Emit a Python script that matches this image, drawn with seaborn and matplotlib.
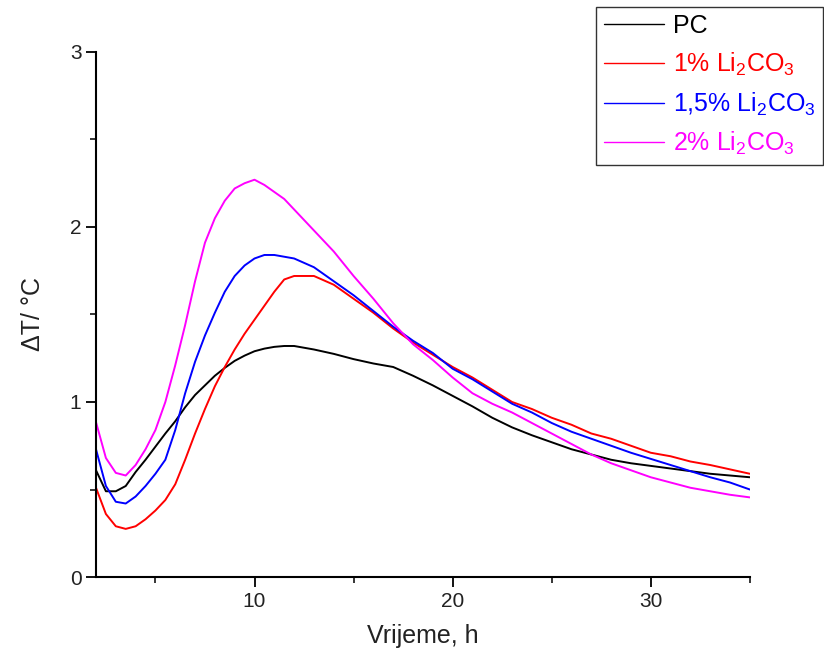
import numpy as np
import pandas as pd
import matplotlib
matplotlib.use("Agg")
import matplotlib.pyplot as plt
import seaborn as sns

# time grid (h)
time_h = [2, 2.5, 3, 3.5, 4, 4.5, 5, 5.5, 6, 6.5, 7, 7.5, 8, 8.5, 9, 9.5, 10, 10.5,
          11, 11.5, 12, 13, 14, 15, 16, 17, 18, 19, 20, 21, 22, 23, 24, 25, 26, 27,
          28, 29, 30, 31, 32, 33, 34, 35]

pc = [0.61, 0.49, 0.49, 0.52, 0.60, 0.67, 0.745, 0.82, 0.89, 0.97, 1.04, 1.095, 1.15,
      1.195, 1.235, 1.265, 1.29, 1.305, 1.315, 1.32, 1.32, 1.30, 1.275, 1.245, 1.22,
      1.20, 1.15, 1.095, 1.035, 0.975, 0.91, 0.855, 0.81, 0.77, 0.73, 0.70, 0.67,
      0.65, 0.635, 0.62, 0.605, 0.59, 0.58, 0.57]

li_1 = [0.51, 0.36, 0.29, 0.275, 0.29, 0.33, 0.38, 0.44, 0.53, 0.67, 0.82, 0.96, 1.09,
        1.20, 1.30, 1.39, 1.47, 1.55, 1.63, 1.70, 1.72, 1.72, 1.67, 1.59, 1.51, 1.42,
        1.34, 1.27, 1.20, 1.14, 1.07, 1.00, 0.96, 0.91, 0.87, 0.82, 0.79, 0.75, 0.71,
        0.69, 0.66, 0.64, 0.615, 0.59]

li_15 = [0.73, 0.52, 0.43, 0.42, 0.46, 0.52, 0.59, 0.67, 0.84, 1.05, 1.23, 1.38, 1.51,
         1.63, 1.72, 1.78, 1.82, 1.84, 1.84, 1.83, 1.82, 1.77, 1.69, 1.61, 1.52, 1.43,
         1.35, 1.28, 1.19, 1.13, 1.06, 0.99, 0.94, 0.88, 0.83, 0.79, 0.75, 0.71, 0.675,
         0.64, 0.605, 0.57, 0.54, 0.50]

li_2 = [0.885, 0.68, 0.595, 0.58, 0.64, 0.73, 0.84, 1.00, 1.21, 1.44, 1.69, 1.91, 2.05,
        2.15, 2.22, 2.25, 2.27, 2.24, 2.20, 2.16, 2.10, 1.98, 1.86, 1.72, 1.59, 1.45,
        1.33, 1.24, 1.14, 1.05, 0.99, 0.94, 0.88, 0.82, 0.76, 0.70, 0.65, 0.61, 0.57,
        0.54, 0.51, 0.49, 0.47, 0.455]

labels = ["PC", "1% Li$_2$CO$_3$", "1,5% Li$_2$CO$_3$", "2% Li$_2$CO$_3$"]
colors = ["#000000", "#ff0000", "#0000ff", "#ff00ff"]
series = [pc, li_1, li_15, li_2]

sns.set_style("ticks")
plt.rcParams["font.family"] = ["Liberation Sans", "DejaVu Sans"]
plt.rcParams["mathtext.fontset"] = "custom"
plt.rcParams["mathtext.rm"] = "Liberation Sans"
plt.rcParams["mathtext.it"] = "Liberation Sans"

fig = plt.figure(figsize=(8.24, 6.66), dpi=100)
ax = fig.add_axes([0.1165, 0.1336, 0.7935, 0.7884])

for lab, col, vals in zip(labels, colors, series):
    df = pd.DataFrame({"t": time_h, "v": vals})
    sns.lineplot(data=df, x="t", y="v", ax=ax, color=col, lw=1.4, label=lab,
                 sort=False, legend=False)

ax.set_xlim(2, 35)
ax.set_ylim(0, 3)
ax.set_xticks([10, 20, 30])
ax.set_xticks([5, 15, 25, 35], minor=True)
ax.set_yticks([0, 1, 2, 3])
ax.set_yticks([0.5, 1.5, 2.5], minor=True)
ax.tick_params(axis="both", which="major", direction="out", length=7, width=1.3,
               labelsize=15, colors="#000000", labelcolor="#222222")
ax.tick_params(axis="both", which="minor", direction="out", length=4.5, width=1.3)
for s in ["top", "right"]:
    ax.spines[s].set_visible(False)
for s in ["left", "bottom"]:
    ax.spines[s].set_linewidth(1.5)
    ax.spines[s].set_color("#000000")

ax.set_xlabel("Vrijeme, h", fontsize=18, color="#222222", labelpad=10)
ax.set_ylabel("ΔT/ °C", fontsize=18, color="#222222", labelpad=18)

handles, _ = ax.get_legend_handles_labels()
leg = fig.legend(handles, labels, loc="upper right", bbox_to_anchor=(0.9985, 0.99),
                 fontsize=18, frameon=True, fancybox=False, edgecolor="#000000",
                 handlelength=2.4, handletextpad=0.35, labelspacing=0.5,
                 borderpad=0.3, borderaxespad=0.0)
leg.get_frame().set_linewidth(1.0)
for txt, col in zip(leg.get_texts(), colors):
    txt.set_color(col)
for ln in leg.get_lines():
    ln.set_linewidth(1.0)

fig.savefig("out.png", dpi=100)
